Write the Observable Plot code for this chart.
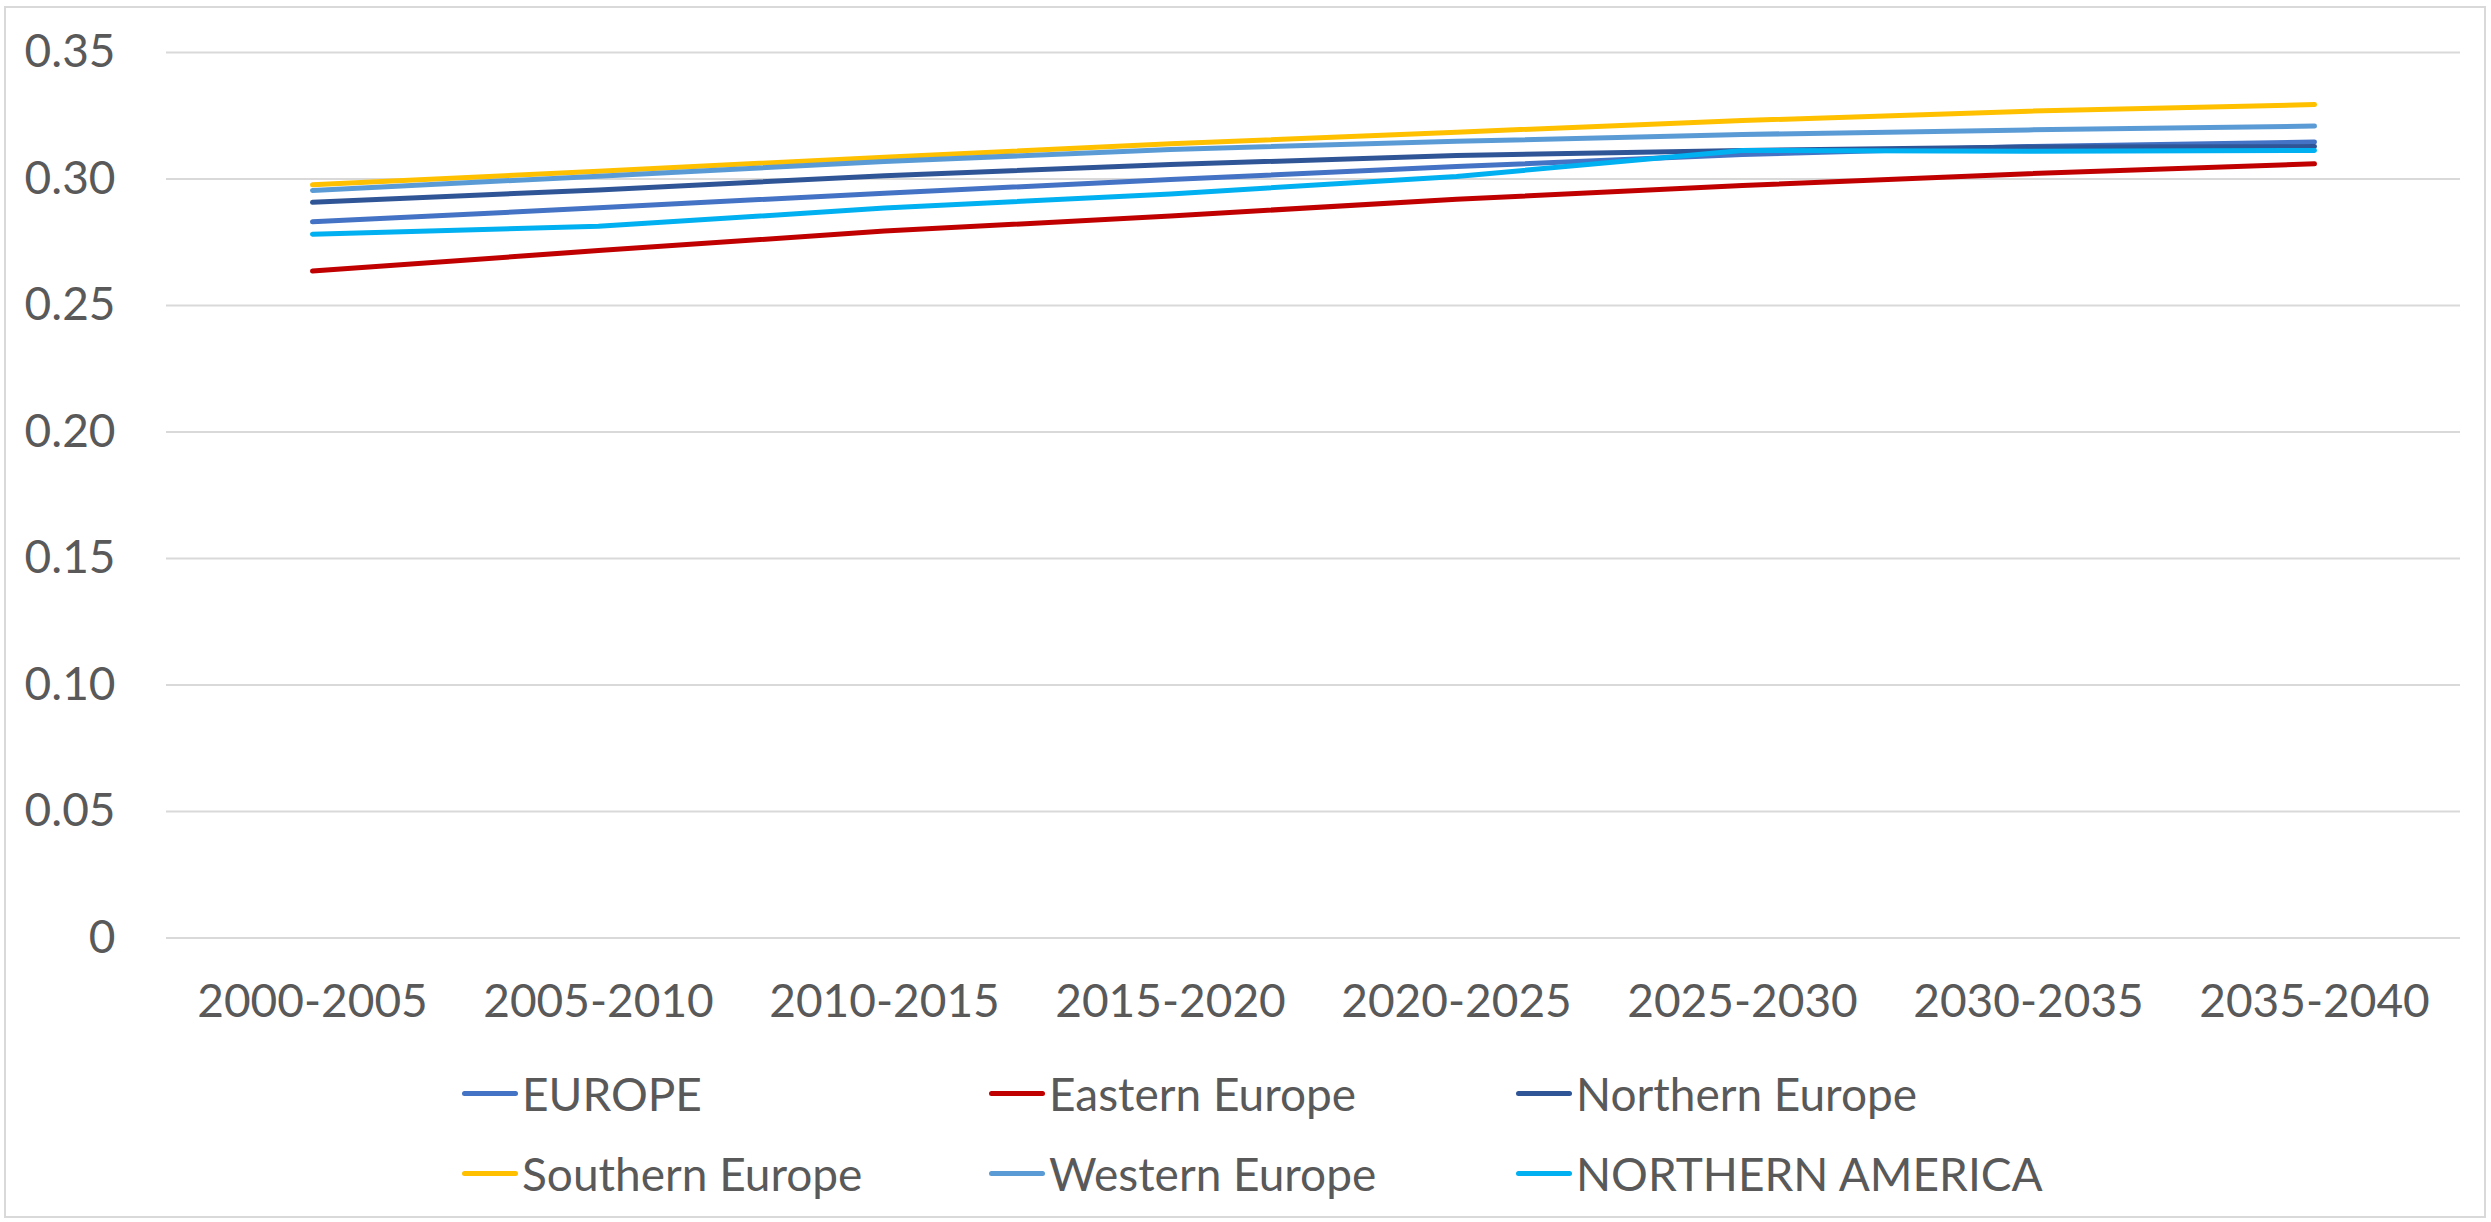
<!DOCTYPE html>
<html>
<head>
<meta charset="utf-8">
<script src="https://cdn.jsdelivr.net/npm/d3@7"></script>
<script src="https://cdn.jsdelivr.net/npm/@observablehq/plot@0.6"></script>
<style>
  html, body { margin: 0; padding: 0; background: #fff; }
  body { width: 2491px; height: 1222px; position: relative; overflow: hidden; font-family: Lato, "Open Sans", sans-serif; }
  #frame { position: absolute; left: 4px; top: 6px; width: 2482px; height: 1212px; border: 2px solid #d9d9d9; box-sizing: border-box; }
  #chart { position: absolute; left: 0; top: 0; }
  #legend { position: absolute; left: 462px; top: 1053px; display: grid; grid-template-columns: 527px 527px 600px; grid-auto-rows: 80px; }
  .item { display: flex; align-items: center; font-size: 46px; color: #595959; white-space: nowrap; }
  .sw { width: 56px; height: 5px; border-radius: 3px; margin-right: 4px; flex: none; }
</style>
</head>
<body>
<div id="frame"></div>
<div id="chart"></div>
<div id="legend"></div>
<script>
const periods = ["2000-2005","2005-2010","2010-2015","2015-2020","2020-2025","2025-2030","2030-2035","2035-2040"];
const seriesNames = ["EUROPE","Eastern Europe","Northern Europe","Southern Europe","Western Europe","NORTHERN AMERICA"];
const seriesColors = ["#4472C4","#C00000","#2F5597","#FFC000","#5B9BD5","#00B0F0"];
const europe   = [0.2831, 0.2886, 0.2944, 0.2998, 0.3049, 0.3097, 0.3128, 0.3146];
const eastern  = [0.2636, 0.2717, 0.2794, 0.2854, 0.2920, 0.2974, 0.3021, 0.3060];
const northern = [0.2908, 0.2957, 0.3013, 0.3057, 0.3093, 0.3113, 0.3126, 0.3128];
const southern = [0.2977, 0.3031, 0.3086, 0.3139, 0.3185, 0.3231, 0.3268, 0.3294];
const western  = [0.2955, 0.3011, 0.3069, 0.3117, 0.3149, 0.3176, 0.3194, 0.3209];
const northAm  = [0.2782, 0.2813, 0.2885, 0.2941, 0.3010, 0.3113, 0.3110, 0.3113];
const yTicks = [0, 0.05, 0.10, 0.15, 0.20, 0.25, 0.30, 0.35];

const seriesValues = [europe, eastern, northern, southern, western, northAm];
const rows = [];
seriesNames.forEach((name, i) => {
  seriesValues[i].forEach((v, j) => rows.push({series: name, period: periods[j], value: v}));
});

const chart = Plot.plot({
  width: 2491,
  height: 1040,
  marginLeft: 166,
  marginRight: 31,
  marginTop: 52,
  marginBottom: 102.5,
  style: {fontFamily: "Lato, 'Open Sans', sans-serif", fontSize: "46px", color: "#595959", background: "transparent", overflow: "visible"},
  x: {type: "point", domain: periods, padding: 0.5, label: null},
  y: {domain: [0, 0.35], label: null},
  color: {domain: seriesNames, range: seriesColors},
  marks: [
    Plot.gridY(yTicks, {stroke: "#d9d9d9", strokeOpacity: 1, strokeWidth: 2}),
    Plot.axisY(yTicks, {tickSize: 0, tickPadding: 51, fill: "#595959", fontSize: 46, label: null,
      tickFormat: d => d === 0 ? "0" : d.toFixed(2)}),
    Plot.axisX({tickSize: 0, tickPadding: 46, fill: "#595959", fontSize: 46, label: null}),
    Plot.line(rows, {x: "period", y: "value", z: "series", stroke: "series", strokeWidth: 5,
      strokeLinecap: "round", strokeLinejoin: "round"})
  ]
});
document.getElementById("chart").appendChild(chart);

const legend = document.getElementById("legend");
seriesNames.forEach((name, i) => {
  const item = document.createElement("div");
  item.className = "item";
  const sw = document.createElement("span");
  sw.className = "sw";
  sw.style.background = seriesColors[i];
  const label = document.createElement("span");
  label.textContent = name;
  item.appendChild(sw);
  item.appendChild(label);
  legend.appendChild(item);
});
</script>
</body>
</html>
